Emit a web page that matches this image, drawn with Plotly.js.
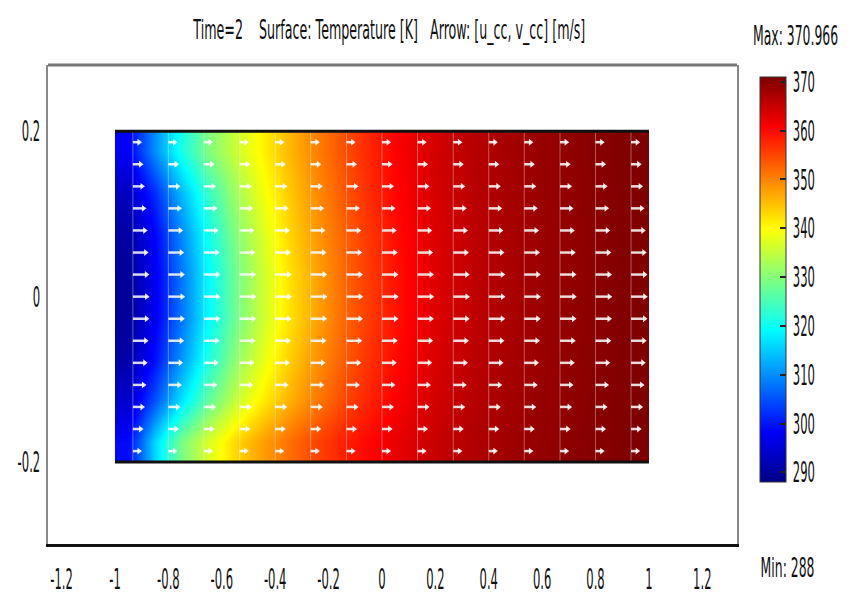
<!DOCTYPE html>
<html>
<head>
<meta charset="utf-8">
<script src="https://cdn.plot.ly/plotly-3.0.1.min.js"></script>
<style>
html,body{margin:0;padding:0;background:#fff;}
#chart{width:850px;height:600px;}
</style>
</head>
<body>
<div id="chart"></div>
<script>
// ---- Data ----
// Temperature field [K]: cell edges in x and y, values at cell centres
const xEdges = [-1,-0.9,-0.8,-0.7,-0.6,-0.5,-0.4,-0.3,-0.2,-0.1,0,0.1,0.2,0.3,0.4,0.5,0.6,0.7,0.8,0.9,1];
const yEdges = [-0.2,-0.15,-0.1,-0.05,0,0.05,0.1,0.15,0.2];
// rows from bottom (y=-0.175) to top (y=0.175); columns x=-0.95 ... 0.95
const T_row1 = [299,316,329,337,343,347.5,351.5,355,358,360.2,362.3,364.2,365.7,367,368,368.8,369.5,370,370.5,370.9];
const T_row2 = [294,305,317,327,335,341,346,350.5,354.5,357.8,360.8,363.1,365,366.4,367.6,368.5,369.2,369.8,370.3,370.8];
const T_row3 = [291,299.5,310.5,321.5,330.5,337.5,343.5,348.5,352.8,356.6,359.8,362.4,364.5,366,367.3,368.2,369,369.7,370.2,370.7];
const T_row4 = [289.5,297.5,308,319,328,335.5,342,347.2,351.8,355.8,359.2,362,364.2,365.8,367.1,368.1,369,369.6,370.2,370.7];
const T_row5 = [289.5,297.5,308,319,328,335.5,342,347.2,351.8,355.8,359.2,362,364.2,365.8,367.1,368.1,369,369.6,370.2,370.7];
const T_row6 = [290.5,298.5,309.5,320.5,329.5,336.5,343,348,352.3,356.2,359.5,362.2,364.3,365.9,367.2,368.1,369,369.6,370.2,370.7];
const T_row7 = [293,302,313.5,323.5,332,338.5,344,349,353.2,357,360.2,362.7,364.7,366.2,367.4,368.3,369.1,369.7,370.2,370.7];
const T_row8 = [298,310,321,329.5,335.5,340.5,345.5,350,354,357.5,360.6,363,365,366.4,367.5,368.4,369.2,369.8,370.3,370.8];
const T_min = 288;
const T_max = 370.966;

// Arrow grid (u_cc, v_cc) [m/s]
const arrowX = [-0.933,-0.8,-0.667,-0.533,-0.4,-0.267,-0.133,0,0.133,0.267,0.4,0.533,0.667,0.8,0.933];
const arrowY = [-0.1867,-0.16,-0.1333,-0.1067,-0.08,-0.0533,-0.0267,0,0.0267,0.0533,0.08,0.1067,0.1333,0.16,0.1867];
const u_cc = [0.5,0.62,0.74,0.86,0.96,1.04,1.1,1.12,1.1,1.04,0.96,0.86,0.74,0.62,0.5];
const v_cc = [0,0,0,0,0,0,0,0,0,0,0,0,0,0,0];

// Domain (rectangle)
const domainX = [-1, 1];
const domainY = [-0.2, 0.2];

// Ticks
const xTicks = [-1.2,-1,-0.8,-0.6,-0.4,-0.2,0,0.2,0.4,0.6,0.8,1,1.2];
const xTickText = ['-1.2','-1','-0.8','-0.6','-0.4','-0.2','0','0.2','0.4','0.6','0.8','1','1.2'];
const yTicks = [-0.2,0,0.2];
const yTickText = ['-0.2','0','0.2'];
const cbTicks = [290,300,310,320,330,340,350,360,370];

// ---- Build traces ----
const FONT = '"DejaVu Sans",sans-serif';
const jet = [[0,'rgb(0,0,135)'],[0.125,'rgb(0,0,255)'],[0.375,'rgb(0,255,255)'],[0.625,'rgb(255,255,0)'],[0.875,'rgb(255,0,0)'],[1,'rgb(125,0,0)']];
const Z = [T_row1,T_row2,T_row3,T_row4,T_row5,T_row6,T_row7,T_row8];

const heat = {
  type:'heatmap', x:xEdges, y:yEdges, z:Z, zsmooth:'best',
  zmin:T_min, zmax:T_max, colorscale:jet, hoverinfo:'skip',
  colorbar:{
    x:1.0334, xanchor:'left', xref:'paper', y:0.552, yanchor:'middle',
    len:0.8455, lenmode:'fraction', thickness:26, thicknessmode:'pixels',
    xpad:0, ypad:0, outlinewidth:1, outlinecolor:'#333',
    tickmode:'array', tickvals:cbTicks, ticktext:cbTicks.map(String),
    ticks:'inside', ticklen:6, tickwidth:2, tickcolor:'#222',
    tickfont:{family:FONT, size:29, color:'#111'}
  }
};

const ARROW_SCALE = 0.046;
const shaftX = [], shaftY = [], headX = [], headY = [], waveX = [], waveY = [];
for (let i = 0; i < arrowX.length; i++) {
  waveX.push(arrowX[i], arrowX[i], null);
  waveY.push(domainY[0], domainY[1], null);
  for (let j = 0; j < arrowY.length; j++) {
    const x1 = arrowX[i] + u_cc[j]*ARROW_SCALE;
    const y1 = arrowY[j] + v_cc[j]*ARROW_SCALE;
    shaftX.push(arrowX[i], x1, null);
    shaftY.push(arrowY[j], y1, null);
    headX.push(x1); headY.push(y1);
  }
}
const waves = {type:'scatter', mode:'lines', x:waveX, y:waveY, hoverinfo:'skip',
  line:{color:'rgba(255,255,255,0.35)', width:1}, showlegend:false};
const shafts = {type:'scatter', mode:'lines', x:shaftX, y:shaftY, hoverinfo:'skip',
  line:{color:'rgba(255,255,255,0.85)', width:2.5}, showlegend:false};
const heads = {type:'scatter', mode:'markers', x:headX, y:headY, hoverinfo:'skip',
  marker:{symbol:'triangle-right', size:6, color:'rgba(255,255,255,0.9)', line:{width:0}}, showlegend:false};
const border = {type:'scatter', mode:'lines', hoverinfo:'skip', showlegend:false,
  x:[domainX[0],domainX[1],null,domainX[0],domainX[1]],
  y:[domainY[1],domainY[1],null,domainY[0],domainY[0]],
  line:{color:'#111', width:3}};

const layout = {
  width:850, height:600,
  margin:{l:48, r:113, t:65, b:56, autoexpand:false},
  paper_bgcolor:'#fff', plot_bgcolor:'#fff',
  showlegend:false,
  title:{text:'Time=2\u00a0\u00a0\u00a0\u00a0Surface: Temperature [K]\u00a0\u00a0\u00a0Arrow: [u_cc, v_cc] [m/s]',
    x:0.458, xref:'container', xanchor:'center', y:0.95, yref:'container', yanchor:'middle',
    font:{family:FONT, size:26, color:'#111'}},
  xaxis:{range:[-1.251,1.33], tickmode:'array', tickvals:xTicks, ticktext:xTickText, tickangle:0,
    showgrid:false, zeroline:false, showline:true, linecolor:'#111', linewidth:3,
    ticks:'', ticklabelstandoff:7, tickfont:{family:FONT, size:29, color:'#111'}},
  yaxis:{range:[-0.299,0.28], tickmode:'array', tickvals:yTicks, ticktext:yTickText,
    showgrid:false, zeroline:false, showline:true, mirror:true, linecolor:'#888', linewidth:2,
    ticks:'', ticklabelstandoff:0, tickfont:{family:FONT, size:29, color:'#111'}},
  shapes:[{type:'line', xref:'paper', yref:'paper', x0:0, x1:1, y0:1, y1:1, line:{color:'#777', width:3}}],
  annotations:[
    {text:'Max: 370.966', xref:'paper', yref:'paper', x:1.085, y:1.062, xanchor:'center', yanchor:'middle',
     showarrow:false, font:{family:FONT, size:27, color:'#111'}},
    {text:'Min: 288', xref:'paper', yref:'paper', x:1.0726, y:-0.05, xanchor:'center', yanchor:'middle',
     showarrow:false, font:{family:FONT, size:27, color:'#111'}}
  ]
};

// Condense all texts horizontally (the reference uses a tall, narrow lettering)
function condense() {
  document.querySelectorAll('#chart svg text').forEach(function(t) {
    const w = t.getComputedTextLength();
    if (!w) return;
    let f = 0.40;
    if (t.classList.contains('gtitle')) f = 392 / w;
    else if (t.classList.contains('annotation-text')) f = 0.46;
    t.setAttribute('textLength', (w * f).toFixed(1));
    t.setAttribute('lengthAdjust', 'spacingAndGlyphs');
  });
}

Plotly.newPlot('chart', [heat, waves, shafts, heads, border], layout, {staticPlot:true, displayModeBar:false}).then(condense);
</script>
</body>
</html>
